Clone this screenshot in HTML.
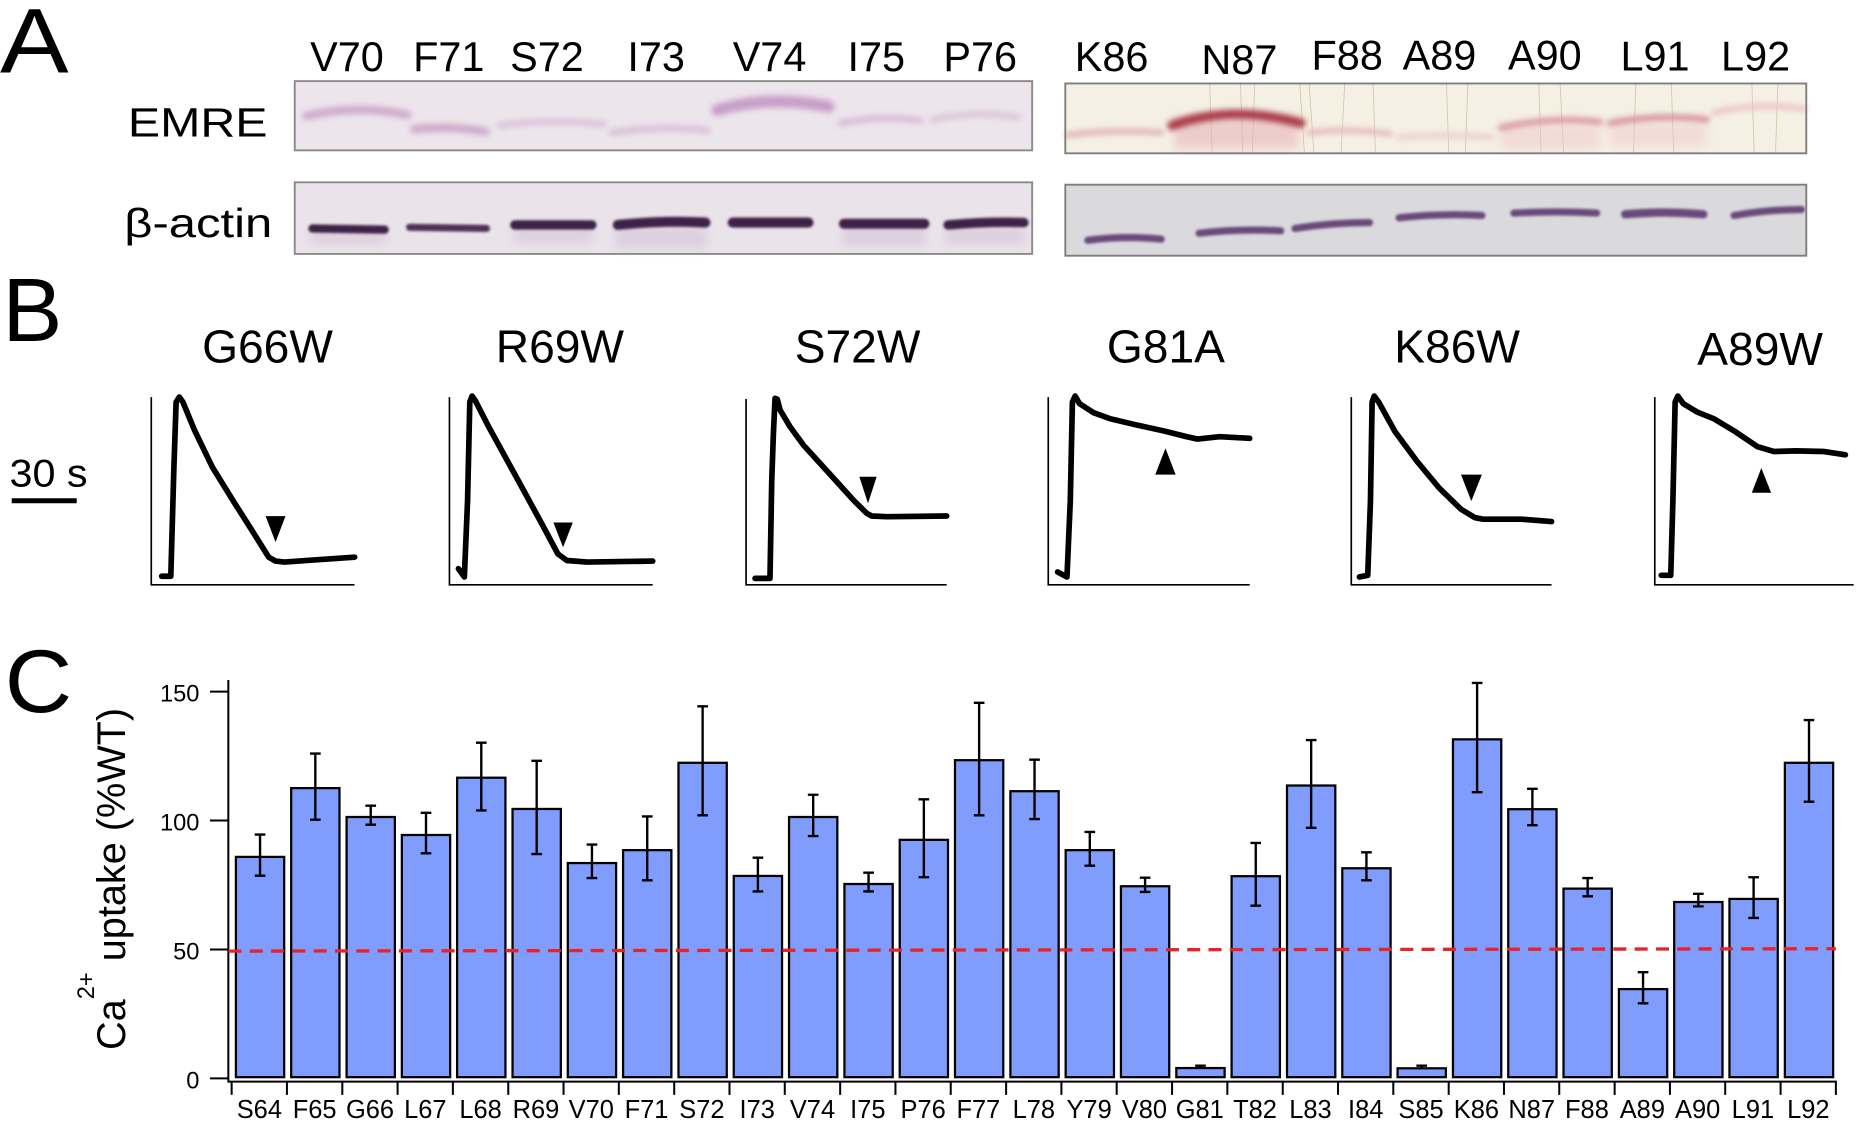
<!DOCTYPE html>
<html><head><meta charset="utf-8">
<style>
html,body{margin:0;padding:0;background:#fff;}
svg{display:block;}
text{font-family:"Liberation Sans",Arial,sans-serif;fill:#000;}
</style></head>
<body>
<svg width="1856" height="1130" viewBox="0 0 1568 954.6" xmlns="http://www.w3.org/2000/svg">
<defs>
<filter id="b1" x="-20%" y="-100%" width="140%" height="300%"><feGaussianBlur stdDeviation="1.2"/></filter>
<filter id="b2" x="-20%" y="-100%" width="140%" height="300%"><feGaussianBlur stdDeviation="2.4"/></filter>
<filter id="b3" x="-20%" y="-100%" width="140%" height="300%"><feGaussianBlur stdDeviation="4"/></filter>
</defs>
<rect x="0" y="0" width="1568" height="954.6" fill="#fff"/>

<!-- ===== Panel A ===== -->
<text x="0" y="61.3" font-size="78" textLength="58" lengthAdjust="spacingAndGlyphs">A</text>
<g font-size="35">
<text x="262" y="60">V70</text>
<text x="349" y="60">F71</text>
<text x="431" y="60">S72</text>
<text x="530" y="60">I73</text>
<text x="619" y="60">V74</text>
<text x="716" y="60">I75</text>
<text x="797" y="60">P76</text>
<text x="908" y="60">K86</text>
<text x="1015" y="62.5">N87</text>
<text x="1108" y="58.5">F88</text>
<text x="1185" y="58.5">A89</text>
<text x="1274" y="58.5">A90</text>
<text x="1369" y="59.5">L91</text>
<text x="1454" y="59.5">L92</text>
</g>
<text x="108" y="115.5" font-size="34.6" textLength="118" lengthAdjust="spacingAndGlyphs">EMRE</text>
<text x="105" y="200" font-size="34.6" textLength="125" lengthAdjust="spacingAndGlyphs">β-actin</text>

<!-- left EMRE blot -->
<rect x="249" y="68.5" width="623" height="58.5" fill="#ece5eb"/>
<g filter="url(#b2)" fill="none" stroke-linecap="round">
<path d="M259 98 Q300 88 344 97" stroke="#c9a0c7" stroke-width="7" opacity="0.85"/>
<path d="M350 109 Q380 106 410 111" stroke="#c7a0c6" stroke-width="7" opacity="0.85"/>
<path d="M422 106 Q465 100 510 105" stroke="#dbc0d9" stroke-width="5"/>
<path d="M517 112 Q558 106 598 110" stroke="#d9bcd7" stroke-width="5"/>
<path d="M606 93 Q650 80 700 90" stroke="#c89ec8" stroke-width="10"/>
<path d="M710 104 Q745 97 778 102" stroke="#d8b8d6" stroke-width="5"/>
<path d="M788 101 Q825 93 860 99" stroke="#dcc2da" stroke-width="5"/>
</g>
<rect x="249" y="68.5" width="623" height="58.5" fill="none" stroke="#8a8a8a" stroke-width="1.6"/>

<!-- left actin blot -->
<rect x="249" y="154" width="623" height="60.5" fill="#eae4ea"/>
<g filter="url(#b3)" opacity="0.35">
<rect x="262" y="196" width="64" height="10" fill="#c3a7c6"/>
<rect x="434" y="193" width="67" height="12" fill="#c3a7c6"/>
<rect x="520" y="192" width="77" height="18" fill="#c3a7c6"/>
<rect x="711" y="192" width="71" height="16" fill="#c3a7c6"/>
<rect x="799" y="192" width="67" height="14" fill="#c3a7c6"/>
</g>
<g filter="url(#b1)" fill="none" stroke="#3d2346" stroke-linecap="round">
<path d="M264 193 L325 194" stroke-width="7"/>
<path d="M346 192 L411 193" stroke-width="6" stroke="#4e3158"/>
<path d="M435 190 L500 190" stroke-width="8"/>
<path d="M522 190 Q560 186 596 188" stroke-width="8.5"/>
<path d="M619 188 L683 188" stroke-width="8.5"/>
<path d="M713 189 L781 189" stroke-width="8.5"/>
<path d="M801 190 Q835 187 865 188" stroke-width="8"/>
</g>
<rect x="249" y="154" width="623" height="60.5" fill="none" stroke="#8a8a8a" stroke-width="1.6"/>

<!-- right EMRE blot -->
<rect x="900" y="70.5" width="626" height="59" fill="#f4f0e4"/>
<g stroke="#c9b38a" stroke-width="0.7" opacity="0.7">
<line x1="1022" y1="71" x2="1024" y2="129"/>
<line x1="1048" y1="71" x2="1050" y2="129"/>
<line x1="1060" y1="71" x2="1058" y2="129"/>
<line x1="1098" y1="71" x2="1102" y2="129"/>
<line x1="1106" y1="71" x2="1110" y2="129"/>
<line x1="1136" y1="71" x2="1133" y2="129"/>
<line x1="1160" y1="71" x2="1162" y2="129"/>
<line x1="1222" y1="71" x2="1224" y2="129"/>
<line x1="1240" y1="71" x2="1238" y2="129"/>
<line x1="1300" y1="71" x2="1302" y2="129"/>
<line x1="1318" y1="71" x2="1321" y2="129"/>
<line x1="1382" y1="71" x2="1380" y2="129"/>
<line x1="1412" y1="71" x2="1414" y2="129"/>
<line x1="1480" y1="71" x2="1482" y2="129"/>
<line x1="1502" y1="71" x2="1500" y2="129"/>
</g>
<g filter="url(#b3)" opacity="0.55">
<rect x="992" y="100" width="105" height="26" fill="#e6b0b8"/>
<rect x="1268" y="106" width="84" height="20" fill="#f0c8cc"/>
<rect x="1360" y="104" width="82" height="20" fill="#f0cace"/>
</g>
<g filter="url(#b2)" fill="none" stroke-linecap="round">
<path d="M902 114 Q940 109 981 112" stroke="#e2b2b4" stroke-width="5"/>
<path d="M990 106 Q1040 88 1099 104" stroke="#aa3a48" stroke-width="8"/>
<path d="M1106 112 Q1140 108 1174 113" stroke="#e6bcbd" stroke-width="5"/>
<path d="M1182 116 Q1220 113 1260 116" stroke="#ecd0ce" stroke-width="5"/>
<path d="M1268 108 Q1310 98 1352 103" stroke="#d994a0" stroke-width="5"/>
<path d="M1360 104 Q1400 96 1442 101" stroke="#d78e9a" stroke-width="5"/>
<path d="M1448 95 Q1487 86 1524 92" stroke="#eec4c6" stroke-width="5"/>
</g>
<rect x="900" y="70.5" width="626" height="59" fill="none" stroke="#7e7e7e" stroke-width="1.6"/>

<!-- right actin blot -->
<rect x="900" y="156" width="626" height="60" fill="#dadadd"/>
<g filter="url(#b1)" fill="none" stroke="#6a4a7a" stroke-linecap="round">
<path d="M919 203 Q950 199 981 202" stroke-width="6"/>
<path d="M1013 197 Q1048 193 1082 195" stroke-width="6"/>
<path d="M1094 193 Q1125 188 1157 188" stroke-width="6"/>
<path d="M1182 184 Q1218 180 1252 182" stroke-width="6"/>
<path d="M1279 180 Q1314 178 1349 180" stroke-width="6"/>
<path d="M1373 181 Q1406 178 1439 181" stroke-width="7"/>
<path d="M1465 182 Q1494 177 1522 177" stroke-width="6"/>
</g>
<rect x="900" y="156" width="626" height="60" fill="none" stroke="#7e7e7e" stroke-width="1.6"/>

<!-- ===== Panel B ===== -->
<text x="2" y="288" font-size="76">B</text>
<g font-size="39" text-anchor="middle">
<text x="226" y="306.2">G66W</text>
<text x="473" y="306.2">R69W</text>
<text x="724.5" y="306.2">S72W</text>
<text x="985" y="306.2">G81A</text>
<text x="1231" y="306.2">K86W</text>
<text x="1487" y="308.5">A89W</text>
</g>
<text x="8" y="411" font-size="33" textLength="66" lengthAdjust="spacingAndGlyphs">30 s</text>
<line x1="9.9" y1="423" x2="64.8" y2="423" stroke="#000" stroke-width="4.2"/>

<g fill="none" stroke="#000" stroke-width="1.4">
<polyline points="127.8,335.5 127.8,494 299.5,494"/>
<polyline points="379.7,335.5 379.7,494 551.4,494"/>
<polyline points="630.3,337 630.3,494 799.8,494"/>
<polyline points="885.6,335.5 885.6,494 1055.8,494"/>
<polyline points="1141.6,335.5 1141.6,494 1310.8,494"/>
<polyline points="1398,335.5 1398,494 1566,494"/>
</g>
<g fill="none" stroke="#000" stroke-width="4.8" stroke-linejoin="round" stroke-linecap="round">
<polyline points="136.6,486.8 144.3,486.8 146.9,395.4 148.8,339.6 151.5,335.4 154.5,339.6 164.1,362.9 179.4,394.6 198.4,425.3 213.7,449.4 227,470.7 232.8,474 240.4,474.8 267.1,472.9 299.6,470.7"/>
<polyline points="387.3,480.4 392.3,487.4 395,423.3 396.9,339.6 398.8,334.6 401.4,338.2 412.1,359.1 427.4,387 442.7,414.9 457.9,442.8 471.3,467.9 478.9,473.5 496.1,474.8 551.4,474"/>
<polyline points="637.9,488.6 650.5,488.6 652,405.5 653.4,366 654.8,336.5 656.7,337.3 659,346.3 667.4,360.4 678.7,375.9 692.8,391.4 706.9,406.9 720.9,422.4 732.2,433.6 736.4,435.9 749.1,436.5 799.8,435.9"/>
<polyline points="893.5,483.2 901.4,487.4 904.2,423.3 906,339.6 908.3,334.6 912,341 923.6,348.5 937.5,353.6 960.7,359.1 983.9,364.2 1002.5,368.9 1011.7,370.9 1030.3,368.9 1055.8,370.3"/>
<polyline points="1148.5,487.4 1155.5,486 1157.8,423.3 1159.2,339.6 1161,334.6 1164.7,339.6 1178.6,364.7 1197.2,389.8 1215.7,412.1 1234.3,430.2 1245.9,437.2 1252.8,438.6 1285.3,438.6 1310.8,440.6"/>
<polyline points="1403.5,486 1411.5,486 1413.3,423.3 1415.2,339.6 1417.5,334.6 1422.1,341 1433.7,348 1447.6,353.6 1466.1,364.7 1484.7,377.3 1498.6,381.4 1517.2,380.9 1540.4,381.4 1559,384.2"/>
</g>
<g fill="#000">
<polygon points="224.4,436 241.2,436 232.8,458"/>
<polygon points="467.5,441.4 483.9,441.4 475.7,462.3"/>
<polygon points="726,402.7 740.6,402.7 733.3,425.2"/>
<polygon points="976,401 993.2,401 984.6,378.7"/>
<polygon points="1234.3,401 1251.9,401 1243,423.3"/>
<polygon points="1480,416.3 1496.3,416.3 1488,395.4"/>
</g>

<!-- ===== Panel C ===== -->
<text x="4" y="601.5" font-size="75" textLength="57" lengthAdjust="spacingAndGlyphs">C</text>
<text transform="translate(105.6,887) rotate(-90)" font-size="33.5">Ca<tspan font-size="20" dy="-26">2+</tspan><tspan font-size="33.5" dy="26"> uptake (%WT)</tspan></text>

<!-- y axis -->
<g stroke="#000" stroke-width="1.7" fill="none">
<line x1="192.9" y1="574.5" x2="192.9" y2="914.6"/>
<line x1="177.4" y1="584.3" x2="192.9" y2="584.3"/>
<line x1="177.4" y1="693.2" x2="192.9" y2="693.2"/>
<line x1="177.4" y1="802.1" x2="192.9" y2="802.1"/>
<line x1="177.4" y1="911" x2="192.9" y2="911"/>
</g>
<g font-size="20" text-anchor="end">
<text x="168.5" y="592.8">150</text>
<text x="168.5" y="701.7">100</text>
<text x="168.5" y="810.6">50</text>
<text x="168.5" y="919.5">0</text>
</g>

<!-- bars -->
<g fill="#809dfd" stroke="#000" stroke-width="1.9">
<rect x="199.3" y="723.9" width="40.8" height="186.1"/>
<rect x="246.0" y="665.8" width="40.8" height="244.2"/>
<rect x="292.8" y="690.2" width="40.8" height="219.8"/>
<rect x="339.5" y="705.4" width="40.8" height="204.6"/>
<rect x="386.2" y="657.0" width="40.8" height="253.0"/>
<rect x="433.0" y="683.4" width="40.8" height="226.6"/>
<rect x="479.7" y="729.1" width="40.8" height="180.9"/>
<rect x="526.4" y="718.2" width="40.8" height="191.8"/>
<rect x="573.2" y="644.4" width="40.8" height="265.6"/>
<rect x="619.9" y="740.0" width="40.8" height="170.0"/>
<rect x="666.6" y="690.2" width="40.8" height="219.8"/>
<rect x="713.4" y="746.8" width="40.8" height="163.2"/>
<rect x="760.1" y="709.5" width="40.8" height="200.5"/>
<rect x="806.8" y="642.2" width="40.8" height="267.8"/>
<rect x="853.6" y="668.4" width="40.8" height="241.6"/>
<rect x="900.3" y="718.2" width="40.8" height="191.8"/>
<rect x="947.0" y="748.7" width="40.8" height="161.3"/>
<rect x="993.8" y="902.3" width="40.8" height="7.7"/>
<rect x="1040.5" y="740.2" width="40.8" height="169.8"/>
<rect x="1087.3" y="663.6" width="40.8" height="246.4"/>
<rect x="1134.0" y="733.5" width="40.8" height="176.5"/>
<rect x="1180.7" y="902.5" width="40.8" height="7.5"/>
<rect x="1227.5" y="624.6" width="40.8" height="285.4"/>
<rect x="1274.2" y="683.6" width="40.8" height="226.4"/>
<rect x="1320.9" y="750.7" width="40.8" height="159.3"/>
<rect x="1367.7" y="835.6" width="40.8" height="74.4"/>
<rect x="1414.4" y="762.0" width="40.8" height="148.0"/>
<rect x="1461.1" y="759.4" width="40.8" height="150.6"/>
<rect x="1507.9" y="644.4" width="40.8" height="265.6"/>
</g>

<!-- error bars -->
<g stroke="#000" stroke-width="2" fill="none">
<path d="M219.7 705.0V739.8M215.2 705.0h9M215.2 739.8h9"/>
<path d="M266.4 636.6V692.5M261.9 636.6h9M261.9 692.5h9"/>
<path d="M313.2 680.6V696.7M308.7 680.6h9M308.7 696.7h9"/>
<path d="M359.9 686.7V720.9M355.4 686.7h9M355.4 720.9h9"/>
<path d="M406.6 627.4V684.7M402.1 627.4h9M402.1 684.7h9"/>
<path d="M453.4 642.7V721.5M448.9 642.7h9M448.9 721.5h9"/>
<path d="M500.1 713.5V741.8M495.6 713.5h9M495.6 741.8h9"/>
<path d="M546.8 689.7V743.7M542.3 689.7h9M542.3 743.7h9"/>
<path d="M593.6 596.7V688.8M589.1 596.7h9M589.1 688.8h9"/>
<path d="M640.3 724.6V753.1M635.8 724.6h9M635.8 753.1h9"/>
<path d="M687.0 671.4V706.3M682.5 671.4h9M682.5 706.3h9"/>
<path d="M733.8 737.2V753.1M729.3 737.2h9M729.3 753.1h9"/>
<path d="M780.5 675.3V741.1M776.0 675.3h9M776.0 741.1h9"/>
<path d="M827.2 593.7V688.8M822.7 593.7h9M822.7 688.8h9"/>
<path d="M874.0 641.8V691.9M869.5 641.8h9M869.5 691.9h9"/>
<path d="M920.7 702.8V731.3M916.2 702.8h9M916.2 731.3h9"/>
<path d="M967.4 741.5V753.5M962.9 741.5h9M962.9 753.5h9"/>
<path d="M1014.2 900.3V903M1009.7 900.3h9"/>
<path d="M1060.9 712.1V765.1M1056.4 712.1h9M1056.4 765.1h9"/>
<path d="M1107.7 625.2V699.3M1103.2 625.2h9M1103.2 699.3h9"/>
<path d="M1154.4 720.0V743.7M1149.9 720.0h9M1149.9 743.7h9"/>
<path d="M1201.1 900.3V903M1196.6 900.3h9"/>
<path d="M1247.9 576.9V669.2M1243.4 576.9h9M1243.4 669.2h9"/>
<path d="M1294.6 666.4V697.1M1290.1 666.4h9M1290.1 697.1h9"/>
<path d="M1341.3 741.8V757.2M1336.8 741.8h9M1336.8 757.2h9"/>
<path d="M1388.1 821.3V847.6M1383.6 821.3h9M1383.6 847.6h9"/>
<path d="M1434.8 755.1V765.7M1430.3 755.1h9M1430.3 765.7h9"/>
<path d="M1481.5 741.1V775.5M1477.0 741.1h9M1477.0 775.5h9"/>
<path d="M1528.3 608.3V677.3M1523.8 608.3h9M1523.8 677.3h9"/>
</g>

<!-- red dashed 50% line -->
<line x1="193" y1="803.5" x2="1551" y2="801.5" stroke="#e3242b" stroke-width="2.8" stroke-dasharray="11 7"/>

<!-- x axis -->
<g stroke="#000" stroke-width="1.7" fill="none">
<line x1="192.9" y1="913.8" x2="1551.8" y2="913.8"/>
<path d="M195.7 913.8V925M242.4 913.8V925M289.2 913.8V925M335.9 913.8V925M382.6 913.8V925M429.4 913.8V925M476.1 913.8V925M522.8 913.8V925M569.6 913.8V925M616.3 913.8V925M663.0 913.8V925M709.8 913.8V925M756.5 913.8V925M803.2 913.8V925M850.0 913.8V925M896.7 913.8V925M943.4 913.8V925M990.2 913.8V925M1036.9 913.8V925M1083.7 913.8V925M1130.4 913.8V925M1177.1 913.8V925M1223.9 913.8V925M1270.6 913.8V925M1317.3 913.8V925M1364.1 913.8V925M1410.8 913.8V925M1457.5 913.8V925M1504.3 913.8V925M1551.0 913.8V925"/>
</g>
<g font-size="21.5" text-anchor="middle">
<text x="219.1" y="944.5">S64</text>
<text x="265.8" y="944.5">F65</text>
<text x="312.6" y="944.5">G66</text>
<text x="359.3" y="944.5">L67</text>
<text x="406.0" y="944.5">L68</text>
<text x="452.8" y="944.5">R69</text>
<text x="499.5" y="944.5">V70</text>
<text x="546.2" y="944.5">F71</text>
<text x="593.0" y="944.5">S72</text>
<text x="639.7" y="944.5">I73</text>
<text x="686.4" y="944.5">V74</text>
<text x="733.2" y="944.5">I75</text>
<text x="779.9" y="944.5">P76</text>
<text x="826.6" y="944.5">F77</text>
<text x="873.4" y="944.5">L78</text>
<text x="920.1" y="944.5">Y79</text>
<text x="966.8" y="944.5">V80</text>
<text x="1013.6" y="944.5">G81</text>
<text x="1060.3" y="944.5">T82</text>
<text x="1107.1" y="944.5">L83</text>
<text x="1153.8" y="944.5">I84</text>
<text x="1200.5" y="944.5">S85</text>
<text x="1247.3" y="944.5">K86</text>
<text x="1294.0" y="944.5">N87</text>
<text x="1340.7" y="944.5">F88</text>
<text x="1387.5" y="944.5">A89</text>
<text x="1434.2" y="944.5">A90</text>
<text x="1480.9" y="944.5">L91</text>
<text x="1527.7" y="944.5">L92</text>
</g>
</svg>
</body></html>
